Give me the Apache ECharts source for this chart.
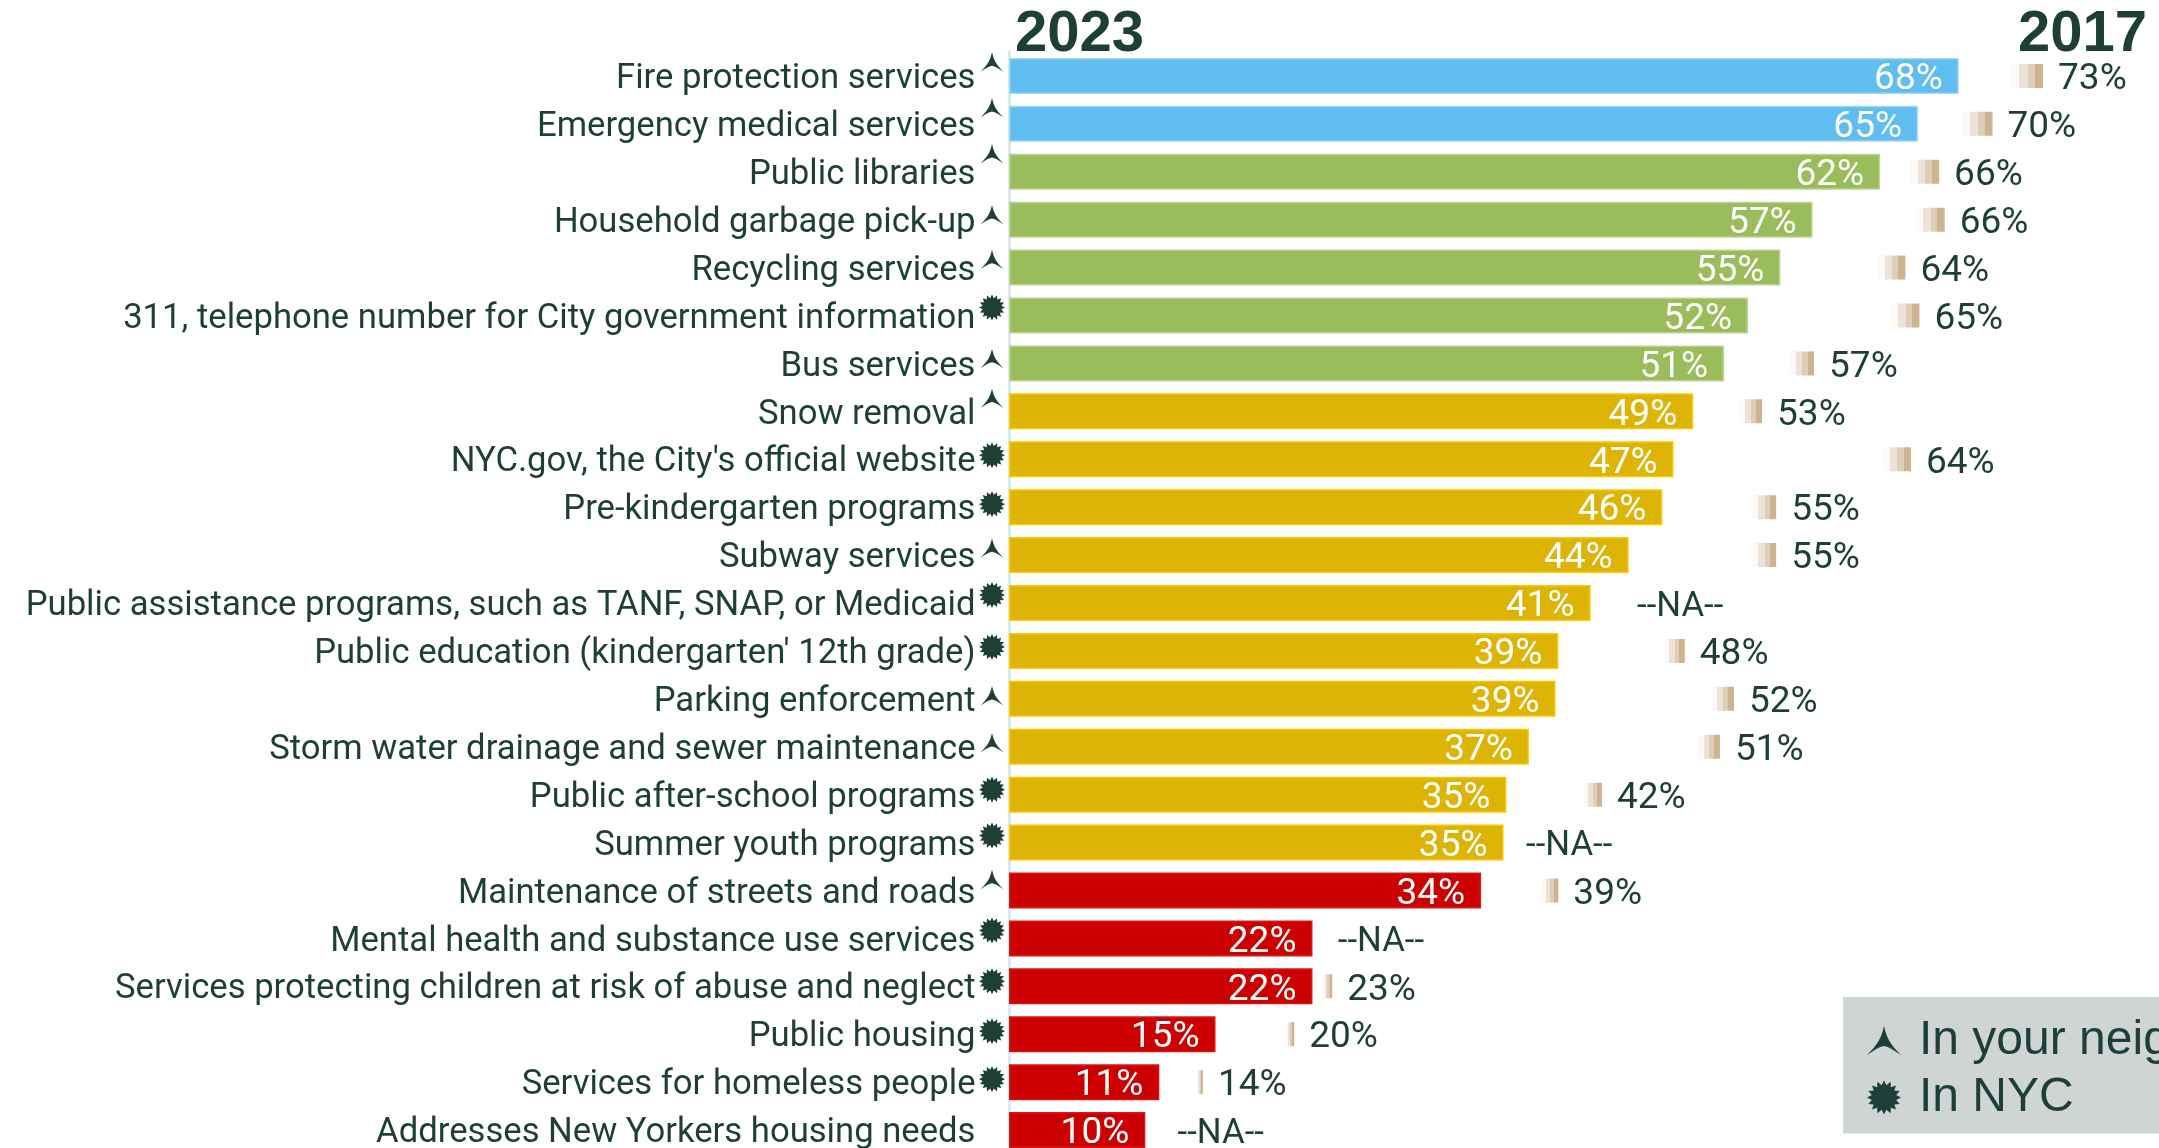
<!DOCTYPE html>
<html><head><meta charset="utf-8">
<style>html,body{margin:0;padding:0;background:#fff;overflow:hidden}#c{width:2159px;height:1148px}</style>
<script src="https://cdn.jsdelivr.net/npm/echarts@6/dist/echarts.min.js"></script>
</head><body><div id="c"></div>
<script>
const categories = ["Fire protection services","Emergency medical services","Public libraries","Household garbage pick-up","Recycling services","311, telephone number for City government information","Bus services","Snow removal","NYC.gov, the City's official website","Pre-kindergarten programs","Subway services","Public assistance programs, such as TANF, SNAP, or Medicaid","Public education (kindergarten' 12th grade)","Parking enforcement","Storm water drainage and sewer maintenance","Public after-school programs","Summer youth programs","Maintenance of streets and roads","Mental health and substance use services","Services protecting children at risk of abuse and neglect","Public housing","Services for homeless people","Addresses New Yorkers housing needs"];
const values2023 = [67.6,64.7,62.0,57.2,54.9,52.6,50.9,48.7,47.3,46.5,44.1,41.4,39.1,38.9,37.0,35.4,35.2,33.6,21.6,21.6,14.7,10.7,9.7];
const labels2023 = ["68%","65%","62%","57%","55%","52%","51%","49%","47%","46%","44%","41%","39%","39%","37%","35%","35%","34%","22%","22%","15%","11%","10%"];
const values2017 = [73.6,70,66.2,66.6,63.8,64.8,57.3,53.6,64.2,54.6,54.6,null,48.1,51.6,50.6,42.2,null,39.1,null,23,20.3,13.8,null];
const labels2017 = ["73%","70%","66%","66%","64%","65%","57%","53%","64%","55%","55%","--NA--","48%","52%","51%","42%","--NA--","39%","--NA--","23%","20%","14%","--NA--"];
const bandColors = ["#5fbdf0","#5fbdf0","#9abd5b","#9abd5b","#9abd5b","#9abd5b","#9abd5b","#deb404","#deb404","#deb404","#deb404","#deb404","#deb404","#deb404","#deb404","#deb404","#deb404","#cc0000","#cc0000","#cc0000","#cc0000","#cc0000","#cc0000"];
const bandBorders = {"#5fbdf0":"#9fd8f6","#9abd5b":"#bcd493","#deb404":"#fbc800","#cc0000":"#d81818"};
const scope = ["h","h","h","h","h","c","h","h","c","c","h","c","c","h","h","c","c","h","c","c","c","c",null];
const iconLift = [14,16,18,5,8,8,5,13,4,3,7,8,4,3,4,5,7,11,8,5,3,3,0];
const naRows = {11:44.7,16:36.8,18:23.4,22:12.0};
const ink = "#1e3f37";
const triPath = "path://M11.5 0C13.2 8 16 13 23 19.5C18 16.5 15 14 11.5 13.5C8 14 5 16.5 0 19.5C7 13 9.8 8 11.5 0Z";
function burst(n,R,r){let d="";for(let i=0;i<2*n;i++){const a=Math.PI*i/n-Math.PI/2,q=i%2?r:R;d+=(i?"L":"M")+(R+q*Math.cos(a)).toFixed(2)+" "+(R+q*Math.sin(a)).toFixed(2);}return "path://"+d+"Z";}
const starPath = burst(16,13,9.5);
const swatch = new echarts.graphic.LinearGradient(0,0,1,0,[
 {offset:0,color:"rgba(255,255,255,0)"},{offset:0.969,color:"rgba(255,255,255,0)"},
 {offset:0.969,color:"#fdf9f6"},{offset:0.977,color:"#fdf9f6"},
 {offset:0.977,color:"#ece2d7"},{offset:0.985,color:"#ece2d7"},
 {offset:0.985,color:"#dfcdb8"},{offset:0.992,color:"#dfcdb8"},
 {offset:0.992,color:"#cdb38f"},{offset:1,color:"#cdb38f"}]);
const iconSeries = (key,name,path,size)=>({
 name,type:"scatter",symbol:path,symbolSize:size,itemStyle:{color:ink,opacity:1},z:5,clip:false,
 data:categories.map((c,i)=>scope[i]===key?{value:[0,i],symbolOffset:[-17,-iconLift[i]]}:null).filter(Boolean)
});
const chart = echarts.init(document.getElementById("c"),null,{renderer:"canvas"});
chart.setOption({
 animation:false,backgroundColor:"#fff",
 textStyle:{fontFamily:"Roboto"},
 grid:{left:1009,top:52,width:1124,height:1102,containLabel:false,outerBoundsMode:"none"},
 xAxis:{type:"value",min:0,max:80,show:false},
 yAxis:[
  {type:"category",inverse:true,data:categories,axisTick:{show:false},
   axisLine:{show:true,lineStyle:{color:"#d9ece8",width:3}},
   axisLabel:{color:ink,fontSize:34.65,fontFamily:"Roboto",margin:33.5,align:"right",
     formatter:v=>"{l|"+v+"}",
     rich:{l:{color:ink,fontSize:34.65,fontFamily:"Roboto",padding:[7,0,0,0]}}},splitLine:{show:false}},
  {type:"category",inverse:true,data:categories,show:false}
 ],
 legend:{
  orient:"vertical",left:1843,top:997,backgroundColor:"#cfd4d4",borderRadius:0,
  padding:[19.5,0,12,24],itemWidth:34,itemHeight:34,itemGap:9,
  itemStyle:{opacity:1},
  textStyle:{color:ink,fontSize:48,fontFamily:"Liberation Sans",padding:[0,0,0,13]},
  data:[{name:"In your neighborhood",icon:triPath},{name:"In NYC",icon:starPath}]
 },
 graphic:[
  {type:"text",left:1015,top:6,style:{text:"2023",fill:ink,font:"bold 58px 'Liberation Sans'"}},
  {type:"text",left:2018,top:6,style:{text:"2017",fill:ink,font:"bold 58px 'Liberation Sans'"}}
 ],
 series:[
  {name:"2017",type:"bar",yAxisIndex:1,barWidth:24,z:1,clip:false,
   data:values2017.map((v,i)=>v!=null?{value:v,itemStyle:{color:swatch},label:{formatter:labels2017[i]}}
      :{value:naRows[i],itemStyle:{color:"rgba(0,0,0,0)"},label:{formatter:labels2017[i],distance:0,fontSize:34.8}}),
   label:{show:true,position:"right",distance:15,color:ink,fontSize:37,fontFamily:"Roboto",offset:[0,4]}},
  {name:"2023",type:"bar",yAxisIndex:0,barWidth:36,z:2,clip:false,
   data:values2023.map((v,i)=>({value:v,itemStyle:{color:bandColors[i],borderColor:bandBorders[bandColors[i]],borderWidth:1.5},label:{formatter:labels2023[i]}})),
   label:{show:true,position:"insideRight",distance:16,color:"#fff",fontSize:37,fontFamily:"Roboto",offset:[0,4]}},
  iconSeries("h","In your neighborhood",triPath,[23,19.5]),
  iconSeries("c","In NYC",starPath,26)
 ]
});
</script></body></html>
